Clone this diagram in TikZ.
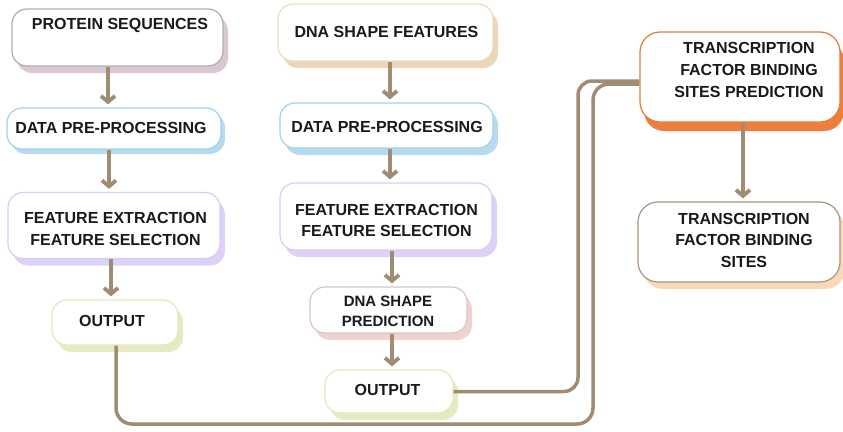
\documentclass[tikz,border=0pt]{standalone}
\usepackage{fontspec}
\setmainfont{Liberation Sans}
\usetikzlibrary{arrows.meta,shadows}
\definecolor{lnk}{HTML}{A08B73}
\definecolor{txtc}{HTML}{1A1A1A}
\definecolor{cprot}{HTML}{B5A9B0}\definecolor{sprot}{HTML}{D9C7D3}
\definecolor{cdpp}{HTML}{9ED3EE}\definecolor{sdpp}{HTML}{B7DAEE}
\definecolor{cfe}{HTML}{D8CEF3}\definecolor{sfe}{HTML}{DDD1F5}
\definecolor{cout}{HTML}{E2E9BF}\definecolor{sout}{HTML}{E5EBC0}
\definecolor{cdsf}{HTML}{EEDBC0}\definecolor{sdsf}{HTML}{EBD6B8}
\definecolor{cdsp}{HTML}{D6C6C6}\definecolor{sdsp}{HTML}{F0D2D2}
\definecolor{ctfp}{HTML}{E47A38}\definecolor{stfp}{HTML}{EE7E3C}
\definecolor{ctfb}{HTML}{A89580}\definecolor{stfb}{HTML}{FADAB6}
\begin{document}
\begin{tikzpicture}[x=1pt,y=-1pt,
  bx/.style={draw, fill=white, rounded corners=15pt, line width=1.2pt, inner sep=0pt},
  sh/.style={general shadow={fill=#1, shadow xshift=5pt, shadow yshift=-7pt}},
  txt/.style={font=\fontsize{16}{22}\selectfont\bfseries, align=center, inner sep=0pt, text=txtc},
  arr/.style={draw=lnk, line width=3.8pt, -{Straight Barb[length=6pt,width=14pt]}, shorten >=3pt},
  conn/.style={draw=lnk, line width=3.5pt, rounded corners=14pt}]
\useasboundingbox (0,0) rectangle (843,431);
\fill[white] (0,0) rectangle (843,431);

% left column
\node[bx, draw=cprot, sh=sprot, minimum width=211pt, minimum height=57pt] (prot) at (117.5,37.5) {};
\node[txt] (tprot) at (120,25) {PROTEIN SEQUENCES};
\node[bx, draw=cdpp, minimum width=214pt, minimum height=41pt, general shadow={fill=sdpp, shadow xshift=4pt, shadow yshift=-5pt}] (dpp1) at (114,128.5) {};
\node[txt] (tdpp1) at (111,128) {DATA PRE-PROCESSING};
\node[bx, draw=cfe, sh=sfe, minimum width=212pt, minimum height=66pt] (fe1) at (114,225.5) {};
\node[txt] (tfe1) at (115.5,228.5) {FEATURE EXTRACTION\\FEATURE SELECTION};
\node[bx, draw=cout, sh=sout, minimum width=126pt, minimum height=45pt] (out1) at (115,322.5) {};
\node[txt] (tout1) at (112,321) {OUTPUT};

% middle column
\node[bx, draw=cdsf, sh=sdsf, minimum width=215pt, minimum height=57pt] (dsf) at (385.5,32.5) {};
\node[txt] (tdsf) at (386.5,32) {DNA SHAPE FEATURES};
\node[bx, draw=cdpp, sh=sdpp, minimum width=213pt, minimum height=45pt] (dpp2) at (386.5,125.5) {};
\node[txt] (tdpp2) at (387,127) {DATA PRE-PROCESSING};
\node[bx, draw=cfe, sh=sfe, minimum width=212pt, minimum height=67pt] (fe2) at (386,216.5) {};
\node[txt, font=\fontsize{16}{21}\selectfont\bfseries] (tfe2) at (386.5,220) {FEATURE EXTRACTION\\FEATURE SELECTION};
\node[bx, draw=cdsp, sh=sdsp, minimum width=157pt, minimum height=46pt] (dsp) at (388.5,310) {};
\node[txt, font=\fontsize{15}{20}\selectfont\bfseries] (tdsp) at (388,311) {DNA SHAPE\\PREDICTION};
\node[bx, draw=cout, sh=sout, minimum width=128pt, minimum height=43pt] (out2) at (389,391.5) {};
\node[txt] (tout2) at (387.5,390) {OUTPUT};

% right column
\node[bx, draw=ctfp, minimum width=200pt, minimum height=90pt, rounded corners=20pt, general shadow={fill=stfp, shadow xshift=4pt, shadow yshift=-9pt}] (tfp) at (740,77) {};
\node[txt] (ttfp) at (749,70) {TRANSCRIPTION\\FACTOR BINDING\\SITES PREDICTION};
\node[bx, draw=ctfb, sh=stfb, minimum width=202pt, minimum height=80pt, rounded corners=20pt] (tfb) at (739,242) {};
\node[txt, font=\fontsize{16}{21.5}\selectfont\bfseries] (ttfb) at (744,240) {TRANSCRIPTION\\FACTOR BINDING\\SITES};

% arrows
\draw[arr] ([xshift=-9.5pt]prot.south) -- ([xshift=-6pt]dpp1.north);
\draw[arr] ([xshift=-5pt]dpp1.south) -- ([xshift=-5pt]fe1.north);
\draw[arr] ([xshift=-3pt]fe1.south) -- ([xshift=-4pt]out1.north);
\draw[arr] ([xshift=4.5pt]dsf.south) -- ([xshift=3.5pt]dpp2.north);
\draw[arr] ([xshift=3.5pt]dpp2.south) -- ([xshift=4pt]fe2.north);
\draw[arr] ([xshift=6pt]fe2.south) -- ([xshift=3.5pt]dsp.north);
\draw[arr] ([xshift=3.5pt]dsp.south) -- ([xshift=3pt]out2.north);
\draw[arr] ([xshift=3pt]tfp.south) -- ([xshift=4pt]tfb.north);

% long connectors
\coordinate (jA) at (578,81);
\coordinate (jB) at (593,424);
\coordinate (jC) at (593,84);
\draw[conn] (out2.east) -| (jA) -- (jA -| tfp.west);
\draw[conn, rounded corners=16pt] ([xshift=1pt]out1.south) |- (jB) -- (jC) -- (jC -| tfp.west);
\end{tikzpicture}
\end{document}
